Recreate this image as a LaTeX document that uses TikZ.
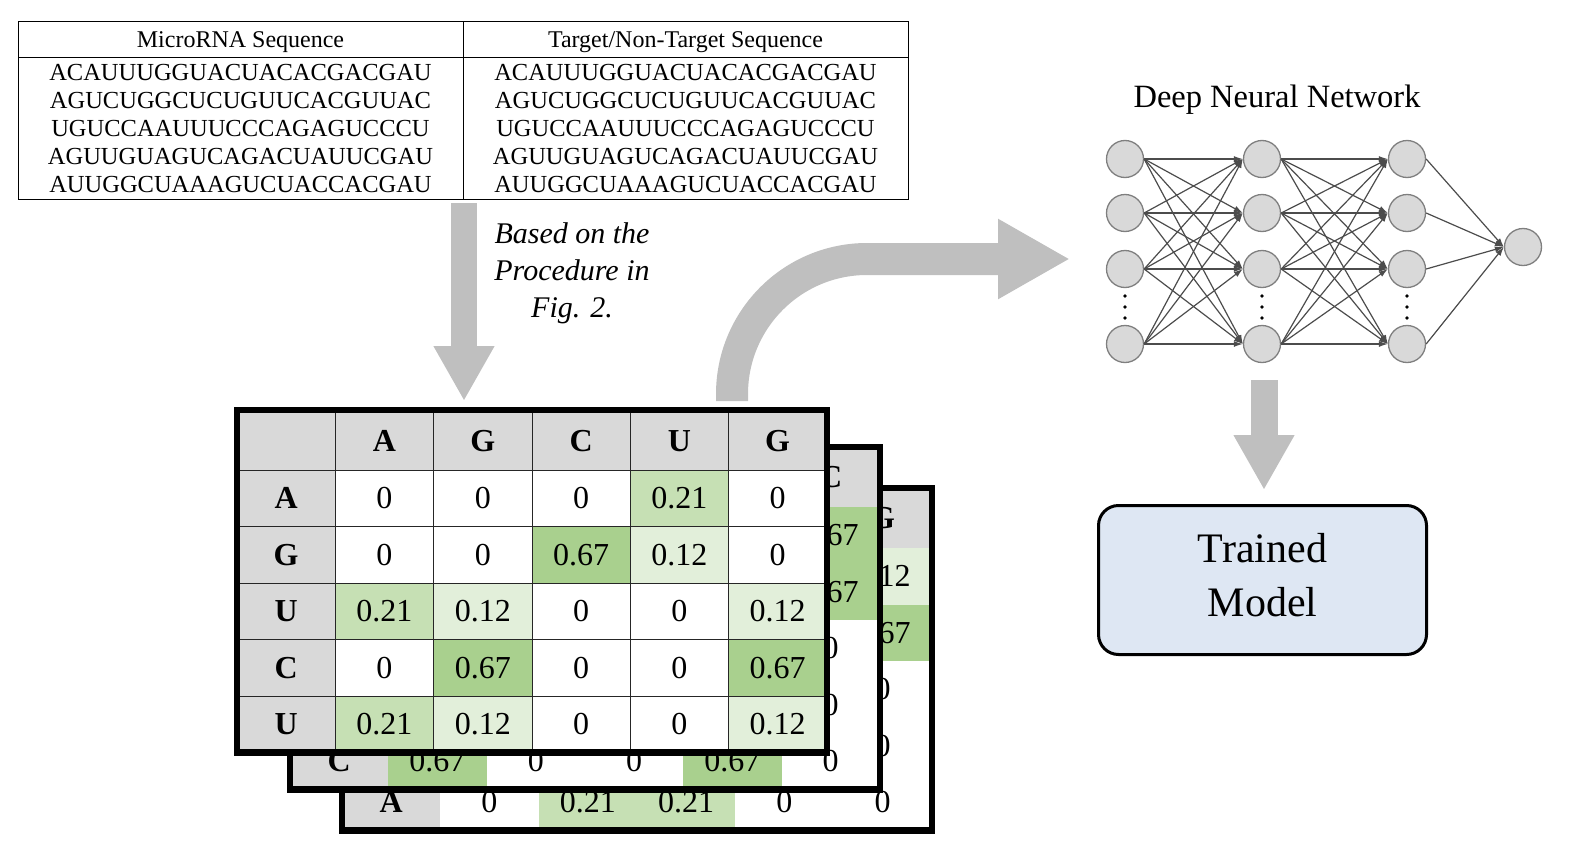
\documentclass[tikz,border=0pt]{standalone}
\usepackage{fontspec}
\setmainfont{Liberation Serif}
\usetikzlibrary{arrows.meta}

\definecolor{hdrgray}{HTML}{D9D9D9}
\definecolor{gdark}{HTML}{A9D08E}
\definecolor{gmid}{HTML}{C6E0B4}
\definecolor{glight}{HTML}{E2EFDA}
\definecolor{arrowgray}{HTML}{BFBFBF}
\definecolor{boxblue}{HTML}{DEE7F3}
\definecolor{nodeedge}{HTML}{7F7F7F}

\tikzset{
  cell/.style={draw=black!85, line width=0.8pt, minimum width=98.3pt, minimum height=56.5pt, inner sep=0pt, font=\fontsize{32}{36}\selectfont},
  hcell/.style={cell, fill=hdrgray, font=\fontsize{32}{36}\selectfont\bfseries},
  bcell/.style={cell, draw=none},
  sheet/.style={line width=6.5pt},
  seqtext/.style={font=\fontsize{24.5}{28}\selectfont, inner sep=0pt},
  neuron/.style={circle, draw=nodeedge, fill=hdrgray, line width=1.3pt, minimum size=37pt, inner sep=0pt},
  synapse/.style={draw=black!70, line width=1.2pt, -{Latex[length=9pt,width=6pt]}},
}

\begin{document}
\begin{tikzpicture}[x=1pt,y=1pt]
   \useasboundingbox (0,0) rectangle (1573,-856);

   % sequence table
   \draw[line width=1pt] (18,-22) rectangle (908,-199);
   \draw[line width=1pt] (18,-58) -- (908,-58) (463,-22) -- (463,-199);
   \node[anchor=base, font=\fontsize{24}{26}\selectfont] (mirnahead) at (240.5,-48) {MicroRNA Sequence};
   \node[anchor=base, font=\fontsize{24}{26}\selectfont] (targethead) at (685.5,-48) {Target/Non-Target Sequence};
   \foreach \s [count=\i] in {ACAUUUGGUACUACACGACGAU,AGUCUGGCUCUGUUCACGUUAC,UGUCCAAUUUCCCAGAGUCCCU,AGUUGUAGUCAGACUAUUCGAU,AUUGGCUAAAGUCUACCACGAU} {
     \node[seqtext] (mirna-\i) at (240.5,{-45-28*\i}) {\s};
     \node[seqtext] (target-\i) at (685.5,{-45-28*\i}) {\s};
   }

   \node[align=center, font=\fontsize{30}{37}\selectfont\itshape] (procnote) at (572,-273) {Based on the\\Procedure in\\Fig. 2.};

   % block arrows
   \coordinate (tabout) at (464,-203);
   \coordinate (matin) at (464,-401);
   \coordinate (bendstart) at (732,-401);
   \coordinate (dnnin) at (1070,-259);
   \coordinate (dnnout) at (1264,-380);
   \coordinate (modelin) at (1264,-490);
   \draw[draw=arrowgray, line width=26pt, -{Triangle[width=57pt,length=55pt]}] (tabout) -- (matin);
   \draw[draw=arrowgray, line width=32pt, -{Triangle[width=75pt,length=72pt]}] (bendstart) -- (732,-394) arc[start angle=180, end angle=90, radius=135] -- (dnnin);
   \draw[draw=arrowgray, line width=27pt, -{Triangle[width=57pt,length=55pt]}] (dnnout) -- (modelin);

   % back sheet
   \begin{scope}[shift={(105,-78)}]
     \fill[white] (237,-410) rectangle (826.8,-752.5);
     \node[hcell, draw=none, minimum height=60pt] (b-0-5) at (777.65,-440) {G};
     \foreach \v/\c [count=\i] in {0.12/glight,0.67/gdark,0/white,0/white}
       \node[bcell, fill=\c] (b-\i-5) at (777.65,{-441.75-56.5*\i}) {\v};
     \node[hcell, draw=none] (b-5-0) at (286.15,-724.25) {A};
     \foreach \v/\c [count=\j] in {0/white,0.21/gmid,0.21/gmid,0/white,0/white}
       \node[bcell, fill=\c] (b-5-\j) at ({237+98.3*(\j+0.5)},-724.25) {\v};
     \draw[sheet] (237,-410) rectangle (826.8,-752.5);
   \end{scope}

   % middle sheet
   \begin{scope}[shift={(53,-37)}]
     \fill[white] (237,-410) rectangle (826.8,-752.5);
     \node[hcell, draw=none, minimum height=60pt] (m-0-5) at (777.65,-440) {C};
     \foreach \v/\c [count=\i] in {0.67/gdark,0.67/gdark,0/white,0/white}
       \node[bcell, fill=\c] (m-\i-5) at (777.65,{-441.75-56.5*\i}) {\v};
     \node[hcell, draw=none] (m-5-0) at (286.15,-724.25) {C};
     \foreach \v/\c [count=\j] in {0.67/gdark,0/white,0/white,0.67/gdark,0/white}
       \node[bcell, fill=\c] (m-5-\j) at ({237+98.3*(\j+0.5)},-724.25) {\v};
     \draw[sheet] (237,-410) rectangle (826.8,-752.5);
   \end{scope}

   % front sheet
   \fill[white] (237,-410) rectangle (826.8,-752.5);
   \node[hcell, minimum height=60pt] (f-0-0) at (286.15,-440) {};
   \foreach \t [count=\j] in {A,G,C,U,G}
     \node[hcell, minimum height=60pt] (f-0-\j) at ({237+98.3*(\j+0.5)},-441) {\t};
   \foreach \t [count=\i] in {A,G,U,C,U}
     \node[hcell] (f-\i-0) at (286.15,{-441.75-56.5*\i}) {\t};
   \foreach \v/\c [count=\j] in {0/white,0/white,0/white,0.21/gmid,0/white}
     \node[cell, fill=\c] (f-1-\j) at ({237+98.3*(\j+0.5)},-498.25) {\v};
   \foreach \v/\c [count=\j] in {0/white,0/white,0.67/gdark,0.12/glight,0/white}
     \node[cell, fill=\c] (f-2-\j) at ({237+98.3*(\j+0.5)},-554.75) {\v};
   \foreach \v/\c [count=\j] in {0.21/gmid,0.12/glight,0/white,0/white,0.12/glight}
     \node[cell, fill=\c] (f-3-\j) at ({237+98.3*(\j+0.5)},-611.25) {\v};
   \foreach \v/\c [count=\j] in {0/white,0.67/gdark,0/white,0/white,0.67/gdark}
     \node[cell, fill=\c] (f-4-\j) at ({237+98.3*(\j+0.5)},-667.75) {\v};
   \foreach \v/\c [count=\j] in {0.21/gmid,0.12/glight,0/white,0/white,0.12/glight}
     \node[cell, fill=\c] (f-5-\j) at ({237+98.3*(\j+0.5)},-724.25) {\v};
   \draw[sheet] (237,-410) rectangle (826.8,-752.5);

   % deep neural network
   \node[anchor=base, font=\fontsize{32.5}{36}\selectfont] (dnntitle) at (1277,-108) {Deep Neural Network};
   \foreach \y [count=\i] in {-159,-213,-269,-344} {
     \node[neuron] (in-\i) at (1125,\y) {};
     \node[neuron] (hid-\i) at (1262,\y) {};
     \node[neuron] (hout-\i) at (1407,\y) {};
   }
   \node[neuron] (out) at (1523,-247) {};
   \foreach \i in {1,...,4} \foreach \j in {1,...,4} {
     \draw[synapse] (in-\i.east) -- (hid-\j.west);
     \draw[synapse] (hid-\i.east) -- (hout-\j.west);
   }
   \foreach \i in {1,...,4}
     \draw[synapse] (hout-\i.east) -- (out.west);
   \foreach \x in {1125,1262,1407} \foreach \y in {-296,-307,-318}
     \fill (\x,\y) circle (1.8);

   % trained model
   \node[draw, line width=3pt, rounded corners=20pt, fill=boxblue, minimum width=328pt, minimum height=149pt,
         align=center, text depth=10pt, font=\fontsize{42}{54}\selectfont] (trained) at (1262.5,-580) {Trained\\Model};
\end{tikzpicture}
\end{document}
